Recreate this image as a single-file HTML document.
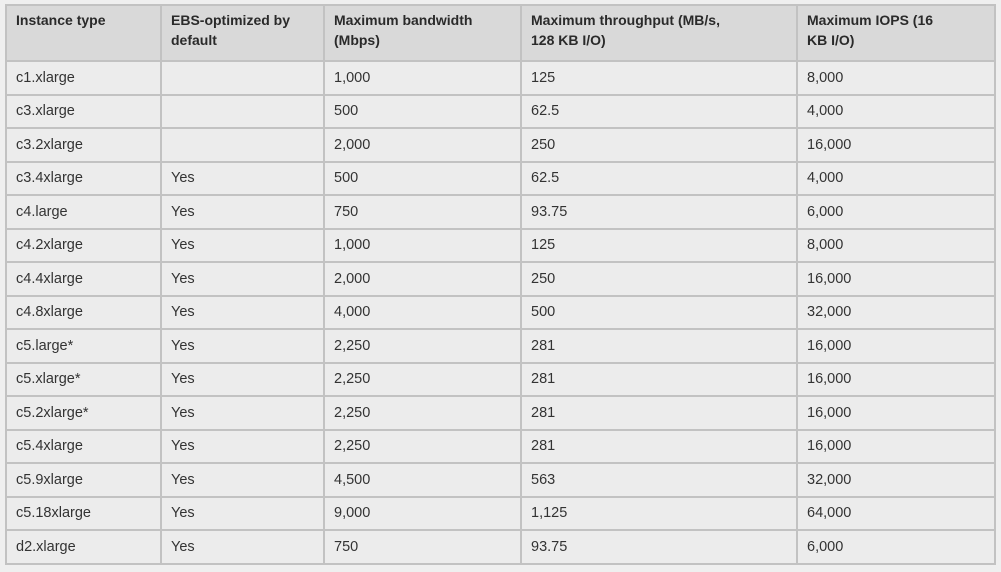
<!DOCTYPE html>
<html><head><meta charset="utf-8"><style>
body{margin:0;width:1001px;height:572px;background:#efefef;overflow:hidden;font-family:"Liberation Sans",sans-serif;}
table{position:absolute;left:5px;top:4px;border-collapse:collapse;table-layout:fixed;width:989px;}
td,th{border:2px solid #c2c2c2;padding:0 0 0 9px;font-size:14.5px;color:#333;text-align:left;vertical-align:middle;white-space:nowrap;overflow:hidden;}
tr{height:33.5px;}
tr.h{height:56px;}
th{background:#d9d9d9;font-weight:bold;line-height:20px;vertical-align:top;padding-top:4px;color:#2a2a2a;font-size:14px;}
td{background:#ececec;}
</style></head><body>
<table>
<colgroup><col style="width:155px"><col style="width:163px"><col style="width:197px"><col style="width:276px"><col style="width:198px"></colgroup>
<tr class="h"><th>Instance type</th><th>EBS-optimized by<br>default</th><th>Maximum bandwidth<br>(Mbps)</th><th>Maximum throughput (MB/s,<br>128 KB I/O)</th><th>Maximum IOPS (16<br>KB I/O)</th></tr>
<tr><td>c1.xlarge</td><td></td><td>1,000</td><td>125</td><td>8,000</td></tr>
<tr><td>c3.xlarge</td><td></td><td>500</td><td>62.5</td><td>4,000</td></tr>
<tr><td>c3.2xlarge</td><td></td><td>2,000</td><td>250</td><td>16,000</td></tr>
<tr><td>c3.4xlarge</td><td>Yes</td><td>500</td><td>62.5</td><td>4,000</td></tr>
<tr><td>c4.large</td><td>Yes</td><td>750</td><td>93.75</td><td>6,000</td></tr>
<tr><td>c4.2xlarge</td><td>Yes</td><td>1,000</td><td>125</td><td>8,000</td></tr>
<tr><td>c4.4xlarge</td><td>Yes</td><td>2,000</td><td>250</td><td>16,000</td></tr>
<tr><td>c4.8xlarge</td><td>Yes</td><td>4,000</td><td>500</td><td>32,000</td></tr>
<tr><td>c5.large*</td><td>Yes</td><td>2,250</td><td>281</td><td>16,000</td></tr>
<tr><td>c5.xlarge*</td><td>Yes</td><td>2,250</td><td>281</td><td>16,000</td></tr>
<tr><td>c5.2xlarge*</td><td>Yes</td><td>2,250</td><td>281</td><td>16,000</td></tr>
<tr><td>c5.4xlarge</td><td>Yes</td><td>2,250</td><td>281</td><td>16,000</td></tr>
<tr><td>c5.9xlarge</td><td>Yes</td><td>4,500</td><td>563</td><td>32,000</td></tr>
<tr><td>c5.18xlarge</td><td>Yes</td><td>9,000</td><td>1,125</td><td>64,000</td></tr>
<tr><td>d2.xlarge</td><td>Yes</td><td>750</td><td>93.75</td><td>6,000</td></tr>
</table>
</body></html>
